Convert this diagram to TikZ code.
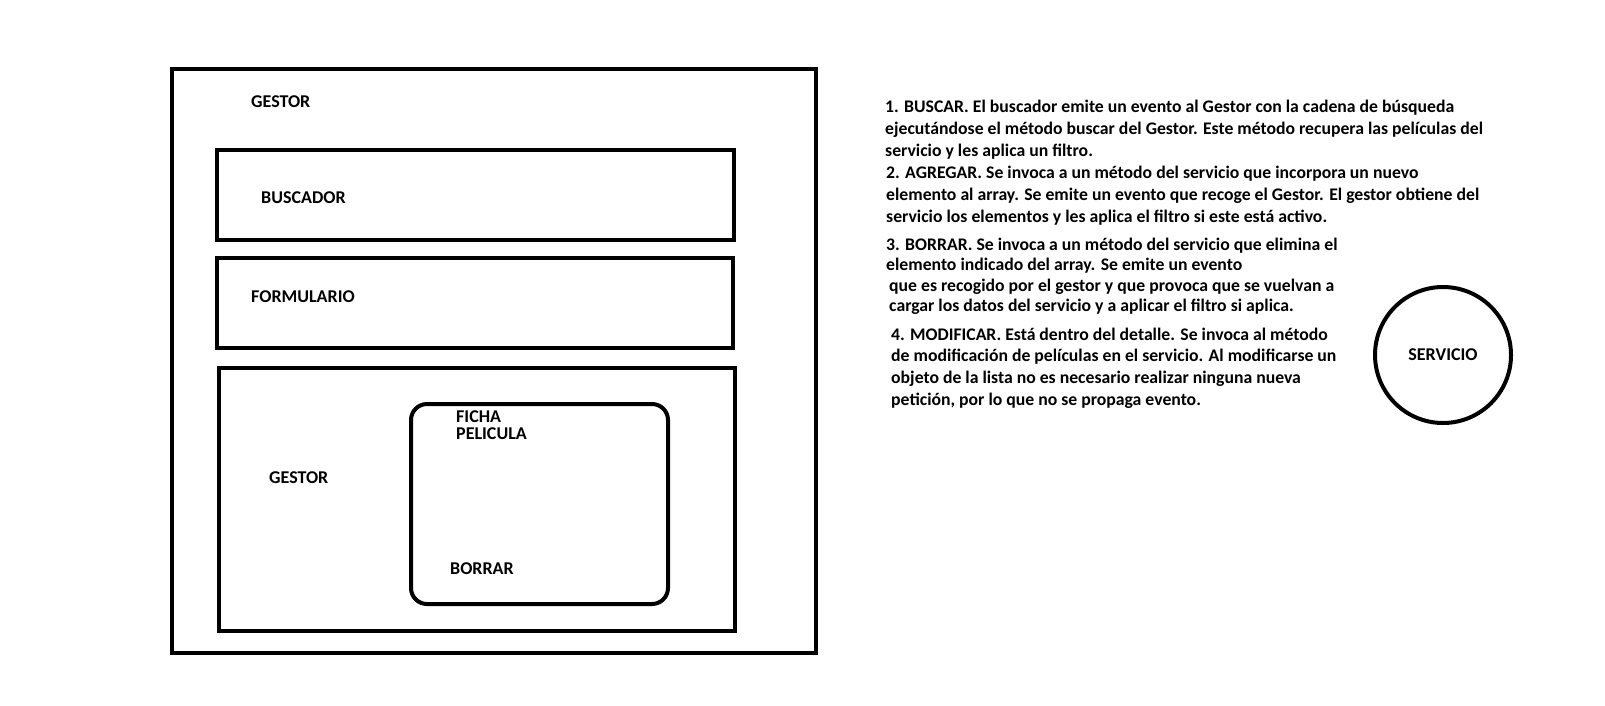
\documentclass[tikz,border=0pt]{standalone}
\usepackage{fontspec}
\setmainfont{Carlito}
\usepackage{tikz}
\usetikzlibrary{positioning}

\begin{document}
\begin{tikzpicture}[
    x=1pt, y=-1pt,
    caja/.style={rectangle, draw=black, line width=4pt, inner sep=0pt},
    ficha/.style={rectangle, rounded corners=16pt, draw=black, line width=4pt, inner sep=0pt},
    servnode/.style={circle, draw=black, line width=4pt, minimum size=136pt, font=\fontsize{18}{20}\selectfont\bfseries},
    etiq/.style={anchor=west, inner sep=0pt, font=\fontsize{18}{20}\selectfont\bfseries, align=left},
    texto/.style={anchor=base west, inner sep=0pt, font=\fontsize{17.7}{22}\selectfont\bfseries, align=left},
]
\useasboundingbox (0,0) rectangle (1605,705);

% cajas
\node[caja, minimum width=644pt, minimum height=584pt] (gestor) at (494,361) {};
\node[caja, minimum width=517pt, minimum height=90pt] (buscador) at (475.5,195) {};
\node[caja, minimum width=516pt, minimum height=90pt] (formulario) at (475,303) {};
\node[caja, minimum width=516pt, minimum height=263pt] (lista) at (477,499.5) {};
\node[ficha, minimum width=257pt, minimum height=200pt] (fichapel) at (539.5,504) {};

% etiquetas
\node[etiq] (lgestor) at (251,102) {GESTOR};
\node[etiq] (lbuscador) at (261,198) {BUSCADOR};
\node[etiq] (lformulario) at (251,297) {FORMULARIO};
\node[etiq] (llista) at (269,478) {GESTOR};
\node[etiq, font=\fontsize{18}{16.5}\selectfont\bfseries] (lficha) at (456,425) {FICHA\\PELICULA};
\node[etiq] (lborrar) at (450,569) {BORRAR};

% servicio
\node[servnode] (servicio) at (1443,355) {SERVICIO};

% descripcion (anclada en la base de la ultima linea)
\node[texto] (t1) at (885,156) {1. BUSCAR. El buscador emite un evento al Gestor con la cadena de búsqueda\\
ejecutándose el método buscar del Gestor. Este método recupera las películas del\\
servicio y les aplica un filtro.};
\node[texto] (t2) at (886,222.5) {2. AGREGAR. Se invoca a un método del servicio que incorpora un nuevo\\
elemento al array. Se emite un evento que recoge el Gestor. El gestor obtiene del\\
servicio los elementos y les aplica el filtro si este está activo.};
\node[texto, font=\fontsize{17.7}{20.5}\selectfont\bfseries] (t3) at (886,311.5) {3. BORRAR. Se invoca a un método del servicio que elimina el\\
elemento indicado del array. Se emite un evento\\
\hspace*{3pt}que es recogido por el gestor y que provoca que se vuelvan a\\
\hspace*{3pt}cargar los datos del servicio y a aplicar el filtro si aplica.};
\node[texto, font=\fontsize{17.7}{21.8}\selectfont\bfseries] (t4) at (891,405.5) {4. MODIFICAR. Está dentro del detalle. Se invoca al método\\
de modificación de películas en el servicio. Al modificarse un\\
objeto de la lista no es necesario realizar ninguna nueva\\
petición, por lo que no se propaga evento.};

\end{tikzpicture}
\end{document}
